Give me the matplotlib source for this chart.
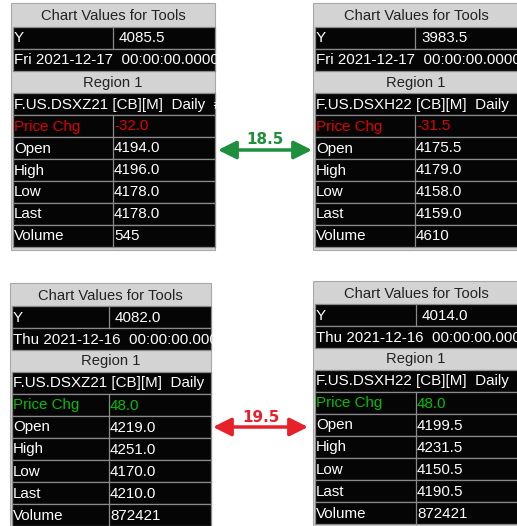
# Chart Values for Tools panels for two contracts, two days, with the spread between them

import matplotlib.pyplot as plt
from matplotlib.patches import Rectangle

contracts = ["F.US.DSXZ21", "F.US.DSXH22", "F.US.DSXZ21", "F.US.DSXH22"]
dates = ["Fri 2021-12-17", "Fri 2021-12-17", "Thu 2021-12-16", "Thu 2021-12-16"]
y_values = [4085.5, 3983.5, 4082.0, 4014.0]
price_chg = [-32.0, -31.5, 48.0, 48.0]
opens = [4194.0, 4175.5, 4219.0, 4199.5]
highs = [4196.0, 4179.0, 4251.0, 4231.5]
lows = [4178.0, 4158.0, 4170.0, 4150.5]
lasts = [4178.0, 4159.0, 4210.0, 4190.5]
volumes = [545, 4610, 872421, 872421]
spreads = [18.5, 19.5]
spread_colors = ["#1e8f3c", "#e8202a"]

# panel layout in pixels: left, top, divider, right, header height, row height
boxes = [(11, 3, 113, 215, 24, 22),
         (313, 3, 415, 519, 24, 22),
         (10, 283, 109, 211, 23, 22),
         (313, 281, 416, 519, 23, 22)]

fig = plt.figure(figsize=(5.17, 5.26), dpi=100)
ax = fig.add_axes([0, 0, 1, 1])
ax.set_xlim(0, 517)
ax.set_ylim(526, 0)
ax.axis("off")

font = "Liberation Sans"
fs = 10.9
grey = "#d3d3d3"
line = "#8a8a8a"


def txt(x, y, s, clip, color="white", ha="left", size=fs, **kw):
    t = ax.text(x, y, s, color=color, ha=ha, va="center", fontsize=size,
                family=font, **kw)
    t.set_clip_path(clip)
    return t


for i, (l, t, d, r, hh, rh) in enumerate(boxes):
    clip = Rectangle((l, t), r - l, 250, transform=ax.transData)
    ax.add_patch(Rectangle((l, t), r - l, hh + 10 * rh + 3, facecolor=grey,
                           edgecolor="#a8a8a8", lw=0.8))
    bl = l + 2
    rows = [("Y", None), ("date", None), ("Region 1", None), ("contract", None),
            ("Price Chg", price_chg[i]), ("Open", opens[i]), ("High", highs[i]),
            ("Low", lows[i]), ("Last", lasts[i]), ("Volume", volumes[i])]
    txt((l + r) / 2, t + hh / 2 + 1, "Chart Values for Tools", clip,
        color="#222222", ha="center", size=10.6)
    y = t + hh
    for name, val in rows:
        mid = y + rh / 2 + 0.5
        if name == "Region 1":
            txt((l + r) / 2, mid, name, clip, color="#222222", ha="center",
                size=10.6)
        else:
            ax.add_patch(Rectangle((bl, y), r - bl, rh, facecolor="#050505",
                                   edgecolor=line, lw=0.9))
            if name == "Y":
                ax.plot([d, d], [y, y + rh], color=line, lw=0.9)
                txt(bl + 1, mid, "Y", clip)
                txt(d + 6, mid, "{:.1f}".format(y_values[i]), clip)
            elif name == "date":
                txt(bl + 1, mid, dates[i] + "  00:00:00.0000", clip)
            elif name == "contract":
                txt(bl + 1, mid, contracts[i] + " [CB][M]  Daily  #", clip)
            else:
                ax.plot([d, d], [y, y + rh], color=line, lw=0.9)
                c = "white"
                if name == "Price Chg":
                    c = "#e00000" if val < 0 else "#00c000"
                s = str(val) if name == "Volume" else "{:.1f}".format(val)
                txt(bl + 1, mid, name, clip, color=c)
                txt(d + 1, mid, s, clip, color=c)
        y += rh

# spread arrows between the Open rows
arrow_y = [150, 427]
arrow_x = [(218, 312), (213, 308)]
for k in range(2):
    x0, x1 = arrow_x[k]
    ax.annotate("", xy=(x1, arrow_y[k]), xytext=(x0, arrow_y[k]),
                arrowprops=dict(arrowstyle="<|-|>,head_length=1.1,head_width=0.55",
                                color=spread_colors[k], lw=2.5,
                                shrinkA=0, shrinkB=0))
    ax.text((x0 + x1) / 2, arrow_y[k] - 10, "{:.1f}".format(spreads[k]),
            color=spread_colors[k], ha="center", va="center", fontsize=11,
            fontweight="bold", family="DejaVu Sans")

fig.savefig("out.png", dpi=100)
